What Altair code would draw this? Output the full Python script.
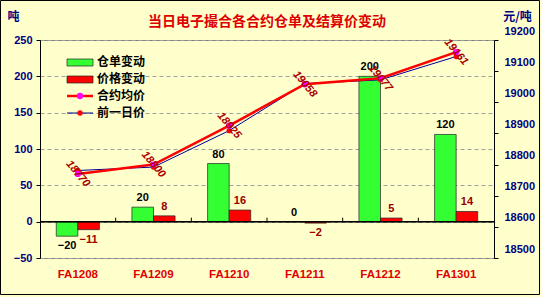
import altair as alt
import pandas as pd

# ---------------- data ----------------
cats = ['FA1208', 'FA1209', 'FA1210', 'FA1211', 'FA1212', 'FA1301']
warrant_change = [-20, 20, 80, 0, 200, 120]      # 仓单变动 (吨)
price_change = [-11, 8, 16, -2, 5, 14]           # 价格变动
avg_price = [18770, 18800, 18925, 19058, 19077, 19161]   # 合约均价 (元/吨)
prev_price = [18781, 18792, 18909, 19060, 19072, 19147]  # 前一日价
bar_series = ['仓单变动', '价格变动']
line_series = ['合约均价', '前一日价']
title_text = '当日电子撮合各合约仓单及结算价变动'
left_ticks = [-50, 0, 50, 100, 150, 200, 250]
right_ticks = [18500, 18600, 18700, 18800, 18900, 19000, 19100, 19200]

bars_df = pd.DataFrame({
    'cat': cats * 2,
    'series': [bar_series[0]] * len(cats) + [bar_series[1]] * len(cats),
    'value': warrant_change + price_change,
})
lines_df = pd.DataFrame({'cat': cats, 'avg': avg_price, 'prev': prev_price})
bounds_df = pd.DataFrame({'cat': cats[1:]})

# ---------------- style ----------------
W, H = 454, 218
PAD_IN = 0.43
STEP = W / len(cats)
CJK = 'Noto Sans CJK SC'
NUM = 'Liberation Sans'
NAVY = '#000080'
DARKRED = '#990000'

xscale = alt.Scale(domain=cats, paddingInner=PAD_IN, paddingOuter=PAD_IN / 2)
yl = alt.Scale(domain=[-50, 250], nice=False, zero=False)
yr = alt.Scale(domain=[18500, 19200], nice=False, zero=False)
xoff = alt.XOffset('series:N', sort=bar_series,
                   scale=alt.Scale(domain=bar_series, paddingInner=0, paddingOuter=0))

x_axis = alt.Axis(orient='bottom', title=None, domain=False, ticks=False,
                  labelAngle=0, labelColor='#E00000', labelFont=NUM,
                  labelFontSize=11.5, labelFontWeight='bold',
                  labelPadding=10, grid=False)
yl_axis = alt.Axis(orient='left', values=left_ticks, title='吨', titleAngle=0,
                   titleX=-27, titleY=-24, titleAlign='center',
                   titleBaseline='middle', titleColor=NAVY, titleFont=CJK,
                   titleFontSize=12, titleFontWeight='bold',
                   labelColor=NAVY, labelFont=NUM, labelFontSize=11,
                   labelFontWeight='bold', labelPadding=4,
                   grid=True, gridDash=[4, 3], gridColor='#a0a0a0',
                   domainColor='black', tickColor='black', tickSize=4)
yr_axis = alt.Axis(orient='right', values=right_ticks, format='d',
                   title='元/吨', titleAngle=0, titleX=23, titleY=-24,
                   titleAlign='center', titleBaseline='middle',
                   titleColor=NAVY, titleFont=CJK, titleFontSize=12,
                   titleFontWeight='bold', labelColor=NAVY, labelFont=NUM,
                   labelFontSize=11, labelFontWeight='bold', labelPadding=6,
                   labelOffset=-9, grid=False, domainColor='black',
                   tickColor='black', tickSize=4)

X = alt.X('cat:N', scale=xscale, sort=cats, axis=x_axis)

# ---------------- bars ----------------
bars = alt.Chart(bars_df).mark_bar(stroke='#222222', strokeWidth=0.7).encode(
    x=X,
    xOffset=xoff,
    y=alt.Y('value:Q', scale=yl, axis=yl_axis),
    color=alt.Color('series:N', scale=alt.Scale(domain=bar_series,
                                                range=['#33FF33', '#FF0000']),
                    legend=None),
)

zero_line = alt.Chart(bounds_df).mark_rule(color='black', strokeWidth=1).encode(
    x=alt.value(0), x2=alt.value(W), y=alt.Y(datum=0, scale=yl, axis=yl_axis))

bound_ticks = alt.Chart(bounds_df).mark_rule(
    color='black', strokeWidth=1, xOffset=-PAD_IN * STEP / 2).encode(
    x=alt.X('cat:N', scale=xscale, sort=cats, axis=x_axis, bandPosition=0),
    y=alt.Y(datum=0, scale=yl, axis=yl_axis),
    y2=alt.Y2(datum=5.5),
)

label_color = alt.condition(alt.datum.series == bar_series[0],
                            alt.value('black'), alt.value(DARKRED))

txt_pos = alt.Chart(bars_df).transform_filter('datum.value >= 0').mark_text(
    baseline='bottom', dy=-4, font=NUM, fontSize=11, fontWeight='bold'
).encode(
    x=X, xOffset=xoff,
    y=alt.Y('value:Q', scale=yl, axis=yl_axis),
    text='value:Q',
    color=label_color,
)

txt_neg = alt.Chart(bars_df).transform_filter('datum.value < 0').mark_text(
    baseline='top', dy=4, font=NUM, fontSize=11, fontWeight='bold'
).encode(
    x=X, xOffset=xoff,
    y=alt.Y('value:Q', scale=yl, axis=yl_axis),
    text='value:Q',
    color=label_color,
)

bar_group = alt.layer(bars, zero_line, bound_ticks, txt_pos, txt_neg)

# ---------------- lines ----------------
line_prev = alt.Chart(lines_df).mark_line(color='#000099', strokeWidth=1).encode(
    x=X, y=alt.Y('prev:Q', scale=yr, axis=yr_axis))
pts_prev = alt.Chart(lines_df).mark_point(filled=True, color='#FF0000', size=28,
                                          opacity=1).encode(
    x=X, y=alt.Y('prev:Q', scale=yr, axis=yr_axis))
line_avg = alt.Chart(lines_df).mark_line(color='#FF0000', strokeWidth=2.5).encode(
    x=X, y=alt.Y('avg:Q', scale=yr, axis=yr_axis))
pts_avg = alt.Chart(lines_df).mark_point(filled=True, color='#FF00FF', size=40,
                                         opacity=1).encode(
    x=X, y=alt.Y('avg:Q', scale=yr, axis=yr_axis))
lbl_avg = alt.Chart(lines_df).mark_text(
    angle=50, color='#AA0000', font=NUM, fontSize=11, fontWeight='bold',
    fontStyle='italic', align='center', baseline='middle'
).encode(x=X, y=alt.Y('avg:Q', scale=yr, axis=yr_axis), text='avg:Q')

line_group = alt.layer(line_prev, pts_prev, line_avg, pts_avg, lbl_avg)

# ---------------- manual legend ----------------
def one(label):
    return pd.DataFrame({'label': [label]})

leg_rect1 = alt.Chart(one(bar_series[0])).mark_rect(
    fill='#33FF33', stroke='#222222', strokeWidth=0.7).encode(
    x=alt.value(27), x2=alt.value(53), y=alt.value(19), y2=alt.value(26))
leg_rect2 = alt.Chart(one(bar_series[1])).mark_rect(
    fill='#FF0000', stroke='#222222', strokeWidth=0.7).encode(
    x=alt.value(27), x2=alt.value(53), y=alt.value(36), y2=alt.value(43))
leg_line1 = alt.Chart(one(line_series[0])).mark_rule(
    color='#FF0000', strokeWidth=2.5).encode(
    x=alt.value(27), x2=alt.value(53), y=alt.value(56))
leg_pt1 = alt.Chart(one(line_series[0])).mark_point(
    filled=True, color='#FF00FF', size=40, opacity=1).encode(
    x=alt.value(40), y=alt.value(56))
leg_line2 = alt.Chart(one(line_series[1])).mark_rule(
    color='#000099', strokeWidth=1).encode(
    x=alt.value(27), x2=alt.value(53), y=alt.value(73))
leg_pt2 = alt.Chart(one(line_series[1])).mark_point(
    filled=True, color='#FF0000', size=28, opacity=1).encode(
    x=alt.value(40), y=alt.value(73))

leg_texts = []
for lab, yy in zip(bar_series + line_series, [22, 39, 56, 73]):
    leg_texts.append(
        alt.Chart(one(lab)).mark_text(
            align='left', baseline='middle', font=CJK, fontSize=12,
            fontWeight='bold', color='black'
        ).encode(x=alt.value(57), y=alt.value(yy), text='label:N')
    )

border = alt.Chart(one('border')).mark_rect(
    fillOpacity=0, stroke='black', strokeWidth=1).encode(
    x=alt.value(-39.5), x2=alt.value(499.5), y=alt.value(-39.5), y2=alt.value(254.5))

chart = alt.layer(
    bar_group, line_group,
    leg_rect1, leg_rect2, leg_line1, leg_pt1, leg_line2, leg_pt2, *leg_texts,
    border,
).resolve_scale(y='independent').properties(
    width=W, height=H,
    autosize=alt.AutoSizeParams(type='none'),
    padding={'left': 40, 'top': 40, 'right': 48, 'bottom': 39},
    background='#FFFFCC',
    title=alt.TitleParams(title_text, color='#DD0000', font=CJK, fontSize=14,
                          fontWeight='bold', anchor='middle', offset=11,
                          frame='group', dy=40),
).configure_view(stroke='#808080', strokeWidth=1)

chart.save('out.html', embed_options={'renderer': 'svg', 'actions': False})
